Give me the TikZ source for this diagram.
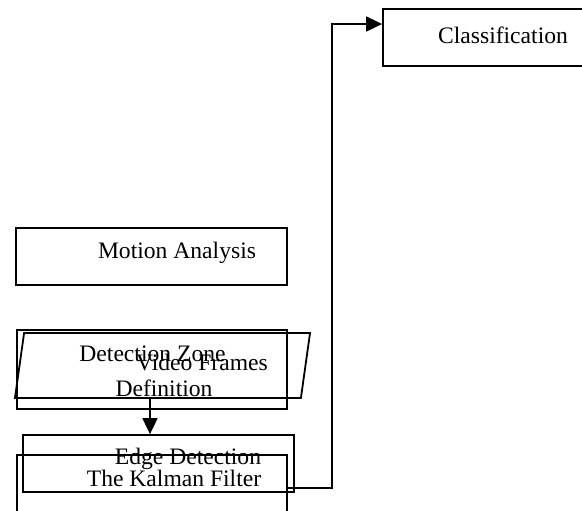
\documentclass[tikz,border=0pt]{standalone}
\usepackage{fontspec}
\setmainfont{Liberation Serif}
\usetikzlibrary{shapes.geometric,arrows.meta}

\begin{document}
\begin{tikzpicture}[x=0.5pt,y=-0.5pt]
        \useasboundingbox (0,0) rectangle (582,510);
        \begin{scope}[every node/.style={rectangle,draw=black,line width=0.9pt,inner sep=0pt}]
            \node[minimum width=135.5pt, minimum height=28.5pt] (cl) at (518.5,37.5) {};
            \node[minimum width=135.5pt, minimum height=28.5pt] (ma) at (151.5,256.5) {};
            \node[minimum width=135pt, minimum height=39.5pt] (dz) at (152,369.5) {};
            \node[trapezium, trapezium left angle=82, trapezium right angle=98,
                  inner xsep=69.2pt, inner ysep=16.25pt] (vf) at (162.5,365.5) {};
            \node[minimum width=135.5pt, minimum height=28.5pt] (ed) at (158.5,463.5) {};
            \node[minimum width=135pt, minimum height=28.5pt] (kf) at (152,483.5) {};
        \end{scope}
        \begin{scope}[every node/.style={inner sep=0pt,font=\fontsize{11.8}{14}\selectfont}]
            \node (clt) at (503,35) {Classification};
            \node (mat) at (177,253) {Motion Analysis};
            \node (dzt) at (152.5,354) {Detection Zone};
            \node (dzt2) at (164,388) {Definition};
            \node (vft) at (202,362) {Video Frames};
            \node (edt) at (188,459) {Edge Detection};
            \node (kft) at (174,478) {The Kalman Filter};
        \end{scope}
        \coordinate (bend) at (332,24);
        \begin{scope}[line width=0.9pt, flow/.style={-{Triangle[length=8pt,width=7.5pt]}}]
            \draw[flow] ([xshift=-6.25pt]vf.south) -- ([xshift=-6.25pt]vf.south |- ed.north);
            \draw[flow] ([yshift=-2.25pt]kf.east) -| (bend) -- (bend -| cl.west);
        \end{scope}
    \end{tikzpicture}
\end{document}
